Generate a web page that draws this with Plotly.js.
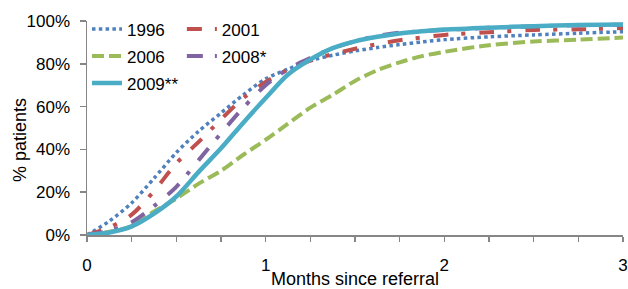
<!DOCTYPE html>
<html><head><meta charset="utf-8">
<script src="https://cdn.plot.ly/plotly-3.0.1.min.js"></script>
<style>html,body{margin:0;padding:0;background:#fff;}#chart{width:628px;height:289px;}</style>
</head><body><div id="chart"></div>
<script>
var months = [0,0.125,0.25,0.375,0.5,0.625,0.75,0.875,1,1.125,1.25,1.375,1.5,1.625,1.75,1.875,2,2.25,2.5,2.75,3];
var s1996 = [0,6.5,15,26.5,38.5,48.5,57,65.5,73,77.5,81.5,84,86,87.6,89,90.2,91.3,92.6,93.5,94.3,95];
var s2001 = [0,3.5,9.5,20.5,33.5,43.5,54,64,71.5,77.3,81.5,84.5,87,89.2,91,92.3,93.5,94.7,95.8,96.1,96.7];
var s2006 = [0,1.5,4,11,17,24,30,37.5,44.5,52,59.5,65.5,72,77,80.7,83.6,85.6,88.7,90.4,91.3,92.3];
var s2008 = [0,2,6,13.5,22.5,35,47.5,59.5,70,77.5,82.7,87.2,90.5,93,94.5,95.2,95.8,96.8,97.5,98,98.3];
var s2009 = [0,1.2,4,10,18,29.5,40.5,52.5,64,75,82,87.3,90.5,92.6,94.2,95.2,96,96.9,97.6,98.1,98.4];
var seriesNames = ['1996','2001','2006','2008*','2009**'];
var xTickVals = [0,0.25,0.5,0.75,1,1.25,1.5,1.75,2,2.25,2.5,2.75,3];
var xTickText = ['0','','','','1','','','','2','','','','3'];
var yTickVals = [0,20,40,60,80,100];
var yTickText = ['0%','20%','40%','60%','80%','100%'];

var FONT = 'Liberation Sans, Arial, sans-serif';
function tr(y, name, color, width, dash, legend, group) {
  return {x: months, y: y, name: name, type: 'scatter', mode: 'lines',
    line: {color: color, width: width, dash: dash, shape: 'spline', smoothing: 0.8},
    legend: legend, legendgroup: group, hoverinfo: 'skip'};
}
var data = [
  tr(s1996, seriesNames[0], '#4F81BD', 3.5, '3.5px,3.3px', 'legend', 'a'),
  tr(s2001, seriesNames[1], '#C0504D', 4, '15px,13px,4px,14px', 'legend2', 'b'),
  tr(s2006, seriesNames[2], '#9BBB59', 4, '12px,5px', 'legend', 'c'),
  tr(s2008, seriesNames[3], '#8064A2', 4, '16px,12px,4px,14px', 'legend2', 'd'),
  tr(s2009, seriesNames[4], '#4BACC6', 4.5, 'solid', 'legend', 'e')
];
var legendCommon = {orientation: 'v', xanchor: 'left', yanchor: 'top', bgcolor: 'rgba(0,0,0,0)',
  font: {family: FONT, size: 17, color: '#000'}, traceorder: 'grouped', tracegroupgap: 2, itemwidth: 30};
var layout = {
  width: 628, height: 289,
  margin: {l: 87, r: 5, t: 21, b: 54, pad: 0},
  paper_bgcolor: '#fff', plot_bgcolor: '#fff',
  font: {family: FONT, size: 17, color: '#000'},
  showlegend: true,
  legend: Object.assign({}, legendCommon, {x: 0.0, y: 1.045}),
  legend2: Object.assign({}, legendCommon, {x: 0.177, y: 1.045}),
  xaxis: {range: [0, 3], tickvals: xTickVals, ticktext: xTickText, ticks: 'outside', ticklen: 5,
    tickcolor: '#868686', tickwidth: 1.5, showline: true, linecolor: '#868686', linewidth: 1.5,
    showgrid: false, zeroline: false, ticklabelstandoff: 9, automargin: false,
    tickfont: {family: FONT, size: 17, color: '#000'},
    title: {text: 'Months since referral', font: {family: FONT, size: 18, color: '#000'}, standoff: 0}},
  yaxis: {range: [0, 100], tickvals: yTickVals, ticktext: yTickText, ticks: 'outside', ticklen: 6,
    tickcolor: '#868686', tickwidth: 1.5, showline: true, linecolor: '#868686', linewidth: 1.5,
    showgrid: false, zeroline: false, automargin: false, ticklabelstandoff: 6,
    tickfont: {family: FONT, size: 17, color: '#000'}},
  annotations: [{text: '% patients', xref: 'paper', yref: 'paper', x: -0.125, y: 0.444,
    textangle: -90, showarrow: false, font: {family: FONT, size: 18, color: '#000'},
    xanchor: 'center', yanchor: 'middle'}]
};
Plotly.newPlot('chart', data, layout, {staticPlot: true, displayModeBar: false});
</script></body></html>
